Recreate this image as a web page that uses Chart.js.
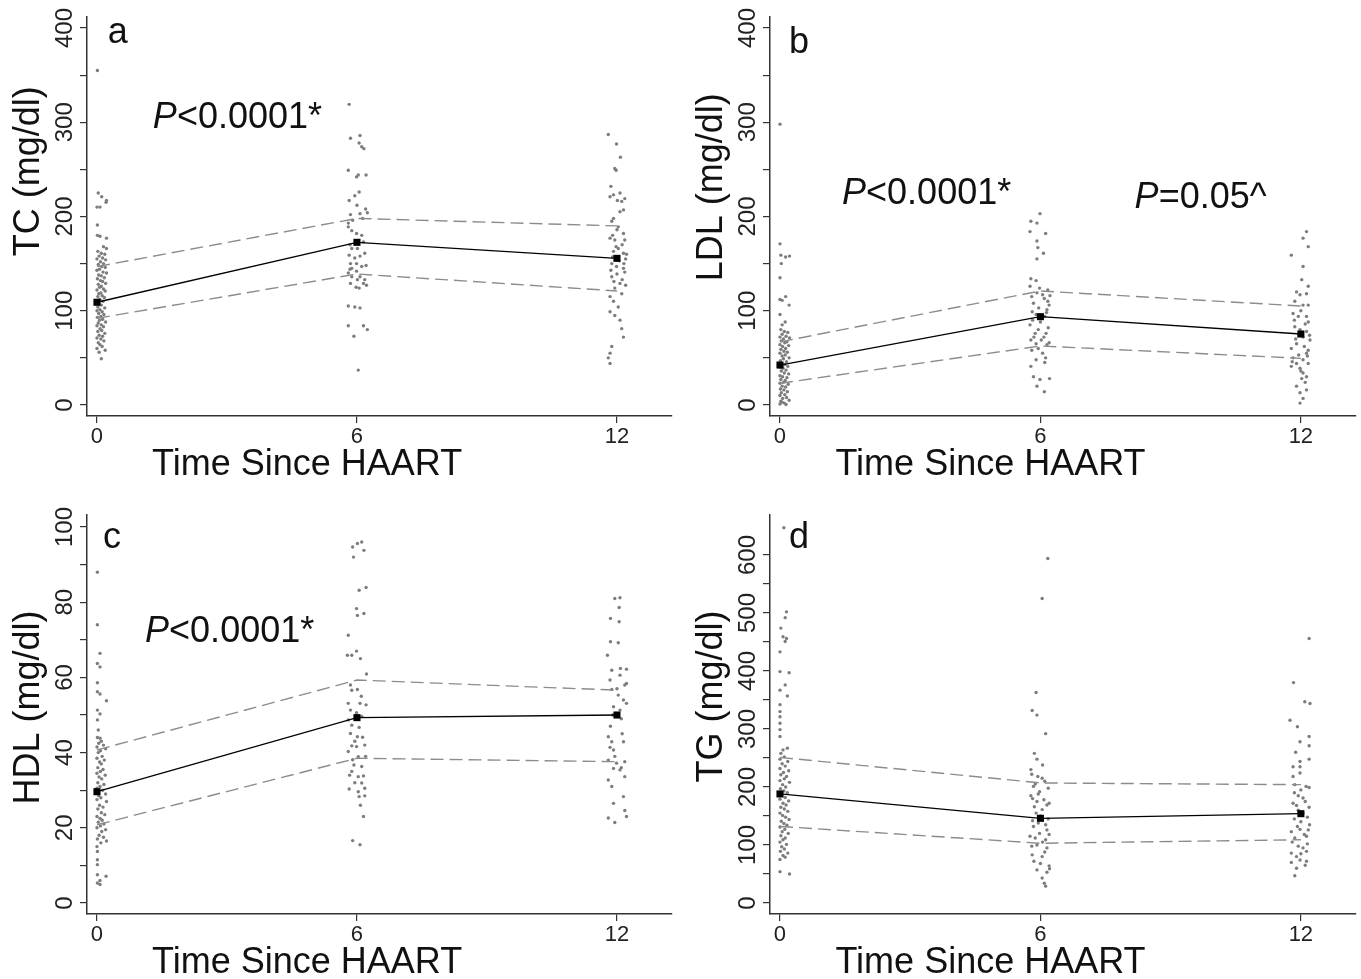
<!DOCTYPE html>
<html>
<head>
<meta charset="utf-8">
<script src="https://cdn.jsdelivr.net/npm/chart.js@4.4.0/dist/chart.umd.min.js"></script>
<style>
  body { margin: 0; background: #fff; }
  #wrap { position: relative; width: 1361px; height: 979px; background: #fff; }
  canvas { position: absolute; }
</style>
</head>
<body>
<div id="wrap">
  <canvas id="pa" width="680" height="490" style="left:0;top:0"></canvas>
  <canvas id="pb" width="681" height="490" style="left:680px;top:0"></canvas>
  <canvas id="pc" width="680" height="489" style="left:0;top:490px"></canvas>
  <canvas id="pd" width="681" height="489" style="left:680px;top:490px"></canvas>
</div>
<script>
// ---- data ----
const times = [0, 6, 12];
const xTicks = [0, 6, 12];
const mgTicks = [0, 50, 100, 150, 200, 250, 300, 350, 400];
const hdlTicks = [0, 10, 20, 30, 40, 50, 60, 70, 80, 90, 100];
const tgTicks = [0, 50, 100, 150, 200, 250, 300, 350, 400, 450, 500, 550, 600];

// means and 95% CI
const tcMean = [109, 172.6, 155.6];
const tcUpper = [146.8, 198, 190];
const tcLower = [92, 139, 121];
const ldlMean = [42.4, 93.7, 75.3];
const ldlUpper = [67, 121, 105];
const ldlLower = [23, 62.6, 49.5];
const hdlMean = [29.6, 49.3, 50];
const hdlUpper = [40.7, 59.3, 56.6];
const hdlLower = [20.8, 38.5, 37.6];
const tgMean = [188, 146, 154];
const tgUpper = [251, 207, 204];
const tgLower = [132, 103, 109];

// individual (jittered) observations [time, value]
const tc0 = [[0.01,355],[0.03,225],[0.11,221],[0.22,217],[0.0,210],[0.07,210],[0.21,215],[0.01,191],[0.01,180],[0.07,179],[0.22,177],[0.15,168],[0.22,166],
  [0.02,163],[0.1,161],[0.18,160],[0.05,158],[0.13,156],[0.0,155],[0.2,154],[0.08,152],[0.15,150],[0.03,149],[0.11,147],[0.19,146],[0.06,144],[0.0,143],[0.14,141],[0.22,140],[0.04,138],[0.1,137],[0.17,135],[0.01,134],[0.08,132],[0.13,131],[0.2,129],[0.03,128],[0.1,126],[0.06,125],[0.15,123],[0.0,122],[0.19,121],[0.09,119],[0.04,118],[0.12,116],[0.02,115],[0.17,114],[0.07,112],[0.0,111],[0.14,110],[0.05,107],[0.1,106],[0.02,104],[0.18,103],[0.07,101],[0.0,100],[0.12,99],[0.04,97],[0.16,96],[0.09,94],[0.01,93],[0.13,91],[0.06,90],[0.2,88],[0.03,87],[0.1,85],[0.0,84],[0.15,83],[0.07,81],[0.11,79],[0.02,78],[0.18,76],[0.05,74],[0.13,73],[0.0,71],[0.09,70],[0.16,68],[0.03,66],[0.07,64],[0.12,62],[0.0,60],[0.19,58],[0.05,56],[0.1,49]];
const tc6 = [[5.82,319],[5.85,283],[6.07,286],[6.05,278],[6.11,274],[6.16,272],[5.8,249],[6.03,244],[6.21,244],[5.99,242],[6.05,226],[5.95,222],[5.82,217],[6.24,204],[5.85,202],[5.9,196],[5.8,189],[6.07,203],[6.13,198],[5.99,182],[6.11,180],[5.88,166],[6.01,166],[6.18,161],[5.82,159],[5.85,150],[5.99,150],[6.21,148],[5.84,144],[5.88,136],[6.01,133],[6.15,129],[5.98,125],[6.22,127],[6.07,136],[5.8,140],[5.8,105],[5.95,104],[6.07,103],[5.8,84],[6.15,84],[6.24,80],[5.93,73],[6.03,37],
  [5.8,193],[5.88,185],[6.15,173],[5.84,170],[6.07,158],[5.95,156],[6.11,147],[5.88,145],[5.99,142],[6.18,133],[5.85,129],[6.05,124],[6.0,212],[6.2,208]];
const tc12 = [[11.8,287],[11.99,277],[12.08,263],[11.95,251],[11.98,249],[11.86,232],[11.84,221],[11.92,223],[12.07,225],[12.18,219],[12.11,216],[12.01,217],[12.15,207],[12.07,205],[11.92,198],[11.88,195],[12.03,189],[12.15,182],[11.84,177],[11.95,175],[12.18,175],[12.03,166],[12.15,161],[11.92,163],[12.22,160],[11.88,150],[11.99,147],[12.15,145],[12.18,141],[11.88,136],[12.07,129],[11.95,124],[12.11,118],[11.84,115],[11.92,110],[12.03,104],[11.84,99],[11.95,95],[12.07,90],[12.11,81],[12.15,72],[11.88,62],[11.84,55],[11.8,50],[11.84,44],
  [12.0,186],[11.9,180],[12.12,170],[11.98,168],[12.2,155],[11.9,157],[12.05,153],[12.16,150],[11.86,143],[12.0,139],[12.12,133],[11.93,131],[12.2,127]];

const ldl0 = [[0.0,298],[0.0,171],[0.02,159],[0.13,157],[0.22,158],[0.03,150],[0.0,135],[0.0,112],[0.13,115],[0.21,106],[0.05,111],[0.0,96],[0.12,88],[0.05,85],
  [0.02,80],[0.1,78],[0.18,77],[0.05,75],[0.14,73],[0.0,72],[0.22,71],[0.08,70],[0.03,68],[0.16,67],[0.11,66],[0.0,64],[0.2,63],[0.06,62],[0.13,60],[0.02,59],[0.09,57],[0.17,56],[0.0,55],[0.12,53],[0.05,52],[0.21,50],[0.08,49],[0.01,47],[0.15,46],[0.04,44],[0.11,43],[0.18,41],[0.0,40],[0.07,39],[0.14,37],[0.03,36],[0.1,34],[0.2,33],[0.0,31],[0.06,30],[0.16,29],[0.02,27],[0.12,26],[0.08,24],[0.0,23],[0.19,22],[0.05,20],[0.13,19],[0.01,17],[0.09,16],[0.17,14],[0.03,13],[0.11,11],[0.0,10],[0.15,8],[0.06,7],[0.21,5],[0.02,4],[0.1,2],[0.0,1],[0.14,0.5],[0.05,3]];
const ldl6 = [[5.99,203],[5.78,195],[5.92,193],[5.76,184],[6.12,182],[5.92,174],[5.94,167],[5.92,155],[6.07,161],[5.78,134],[5.9,132],[5.76,126],[5.98,124],[6.17,122],[5.92,119],[6.09,113],[6.17,110],[5.84,108],[5.96,103],[5.81,99],[6.15,101],[6.02,92],[5.76,85],[5.88,76],[6.13,76],[5.78,69],[6.02,69],[5.9,65],[6.15,64],[6.05,55],[6.12,50],[5.78,41],[5.84,30],[5.99,27],[6.21,28],[5.92,20],[6.09,14],
  [6.05,117],[5.8,115],[6.2,106],[5.9,96],[6.1,94],[5.82,90],[6.0,88],[6.18,82],[5.95,80],[5.85,72],[6.08,72],[6.2,66],[5.95,60],[5.8,58],[6.1,45],[5.9,48],[6.22,116],[6.14,98]];
const ldl12 = [[12.13,184],[12.05,177],[12.17,168],[11.78,159],[12.05,147],[12.02,133],[12.17,126],[11.9,120],[11.98,117],[12.13,118],[11.86,110],[12.05,106],[12.17,106],[11.82,97],[11.94,94],[12.13,94],[12.17,88],[11.86,83],[11.98,80],[12.13,78],[12.05,72],[12.21,69],[11.9,65],[11.78,60],[12.17,58],[12.13,55],[11.82,50],[12.05,48],[11.9,44],[12.17,44],[11.78,41],[11.98,39],[12.05,34],[12.13,30],[12.02,28],[11.9,20],[12.13,16],[11.98,13],[12.05,7],[11.98,2],
  [12.0,100],[11.85,90],[12.1,86],[11.95,75],[12.2,74],[11.88,70],[12.08,62],[11.95,53],[12.15,52],[11.8,46],[12.0,36],[12.1,24]];

const hdl0 = [[0.01,88],[0.01,74],[0.07,66.4],[0.01,63.7],[0.07,62.8],[0.01,58.6],[0.01,56.2],[0.07,55.6],[0.22,53.8],[0.01,51.3],[0.07,50.3],[0.01,48.7],[0.03,46],[0.01,44],[0.07,43.8],
  [0.1,43],[0.04,42.5],[0.15,42],[0.0,41.5],[0.2,41],[0.08,40.5],[0.03,40],[0.12,39],[0.0,38.5],[0.17,38],[0.06,37.5],[0.1,37],[0.02,36],[0.14,35.5],[0.08,35],[0.0,34.5],[0.19,34],[0.05,33.5],[0.11,33],[0.02,32],[0.16,31.5],[0.07,31],[0.0,30.5],[0.13,30],[0.2,29],[0.04,28.5],[0.09,28],[0.0,27.5],[0.22,27],[0.06,26],[0.14,25.5],[0.02,25],[0.1,24],[0.18,23.5],[0.0,23],[0.07,22.5],[0.12,22],[0.03,21.5],[0.16,21],[0.08,20.5],[0.0,20],[0.2,19.5],[0.11,19],[0.05,18],[0.15,17.5],[0.01,17],[0.22,16.5],[0.09,16],
  [0.0,15],[0.01,13.7],[0.01,11.5],[0.01,10.2],[0.01,7.5],[0.21,7.1],[0.07,6],[0.01,5.3],[0.07,4.9]];
const hdl6 = [[5.9,94.7],[6.01,95.6],[6.11,96],[6.16,93.8],[5.92,92],[6.05,83.2],[6.21,83.9],[5.99,78.3],[6.01,76.5],[6.16,77],[5.8,71.2],[5.78,65.9],[5.88,65.9],[5.99,67],[6.08,65],[6.22,60.9],[5.88,56.6],[6.01,56.8],[5.8,53.1],[6.07,53.1],[6.21,52.7],[5.85,51.3],[5.99,50.6],[6.11,49.6],[5.8,48.7],[5.88,47.3],[6.05,46.7],[5.85,45.1],[6.01,44.2],[6.13,44.1],[5.88,41.8],[5.99,41.6],[6.18,42],[5.8,40.3],[6.03,38.9],[5.9,38.1],[5.93,36.7],[6.11,36.3],[5.88,35],[6.03,33.6],[6.15,33.8],[5.95,32],[6.11,31.9],[5.82,30.3],[6.03,29.6],[6.18,30.5],[6.05,28.3],[6.18,28.5],[6.15,23],[5.9,16.6],[6.07,15.5],
  [5.85,58],[6.1,55],[5.95,43],[6.2,39],[5.83,34],[6.08,26]];
const hdl12 = [[11.95,81],[12.07,81.2],[12.05,78.6],[11.85,75.7],[12.05,74.8],[11.85,69.5],[12.03,69.2],[11.78,65.9],[11.88,61.9],[12.08,62.4],[12.22,62.2],[11.84,59.3],[12.07,60.6],[12.18,58],[11.88,56.8],[12.22,58.4],[12.03,55.3],[12.15,54],[11.92,52.2],[12.22,53.1],[12.07,51.3],[11.8,44.2],[11.88,42.9],[11.84,41.4],[12.15,42.9],[11.92,40.7],[11.8,38],[11.99,37.2],[12.18,37.6],[11.92,35.8],[12.07,35.4],[11.8,32.7],[12.18,33.6],[12.15,28.3],[11.92,26.5],[11.8,22.6],[11.95,21.4],[12.22,23],[12.18,24.6],
  [11.9,50],[12.1,49],[11.85,47],[12.0,57],[12.12,45],[11.95,39],[12.1,36],[11.88,31]];

const tg0 = [[0.09,647],[0.15,502],[0.12,492],[0.02,474],[0.07,459],[0.12,451],[0.15,456],[0.0,433],[0.0,399],[0.21,397],[0.12,376],[0.0,367],[0.17,357],[0.0,342],[0.0,330],[0.0,321],[0.0,310],[0.0,299],[0.0,287],[0.17,267],[0.07,264],[0.02,258],
  [0.1,252],[0.0,248],[0.18,244],[0.05,240],[0.12,236],[0.0,232],[0.2,228],[0.08,225],[0.02,221],[0.15,218],[0.1,214],[0.0,211],[0.22,208],[0.06,204],[0.13,200],[0.01,197],[0.09,193],[0.17,190],[0.04,186],[0.12,182],[0.0,179],[0.2,176],[0.07,172],[0.14,169],[0.02,165],[0.1,162],[0.18,158],[0.0,155],[0.06,151],[0.13,148],[0.21,144],[0.03,141],[0.09,137],[0.16,134],[0.0,131],[0.11,127],[0.05,123],[0.19,120],[0.02,116],[0.12,112],[0.07,109],[0.0,105],[0.15,101],[0.04,97],[0.1,93],[0.01,89],[0.18,86],[0.07,82],[0.12,79],[0.0,75],
  [0.0,54],[0.22,50]];
const tg6 = [[6.17,594],[6.04,525],[5.9,363],[5.81,332],[5.92,324],[6.12,292],[5.86,258],[5.92,248],[6.05,238],[5.78,230],[5.94,218],[6.04,215],[5.84,201],[5.98,192],[5.78,185],[5.92,175],[6.15,169],[5.86,166],[6.04,161],[5.84,132],[6.15,126],[5.98,120],[5.76,115],[6.12,109],[5.92,100],[6.15,95],[5.81,83],[6.04,80],[5.92,57],[6.21,59],[6.15,53],[6.04,43],[6.09,34],[6.12,29],
  [5.8,222],[6.1,210],[5.88,205],[6.18,198],[5.95,188],[5.82,180],[6.08,178],[6.2,172],[5.9,155],[6.0,150],[6.18,145],[5.82,142],[5.95,138],[6.12,135],[6.2,118],[5.88,112],[6.05,105],[5.8,98],[6.1,88],[5.85,72],[6.0,68],[6.2,64]];
const tg12 = [[12.19,456],[11.83,380],[12.09,347],[12.21,344],[11.75,315],[11.92,304],[11.98,278],[12.19,287],[11.88,260],[12.19,271],[11.98,244],[12.19,248],[11.82,235],[11.98,235],[11.82,218],[11.98,224],[11.86,204],[12.12,201],[12.19,199],[11.94,185],[12.05,181],[11.82,172],[12.19,165],[11.94,160],[12.05,155],[11.78,123],[11.98,127],[12.17,126],[12.13,115],[11.86,112],[11.94,98],[12.05,95],[11.78,86],[12.13,89],[11.9,80],[11.78,70],[11.98,74],[12.13,72],[11.9,60],[11.86,47],
  [12.0,195],[11.85,190],[12.1,175],[11.9,168],[12.15,148],[11.85,145],[12.0,140],[12.2,135],[11.92,132],[12.08,118],[11.8,105],[12.15,102],[12.0,85],[12.1,65]];

// ---- drawing ----
const font = "'Liberation Sans', Arial, Helvetica, sans-serif";

function pts(list) { return list.map(p => ({ x: p[0], y: p[1] })); }
function line(vals) { return vals.map((v, i) => ({ x: times[i], y: v })); }

// text annotations: panel letters, p-values, axis titles
const notes = {
  id: 'notes',
  afterDraw(chart, args, opts) {
    const ctx = chart.ctx, area = chart.chartArea;
    const sx = chart.scales.x, sy = chart.scales.y;
    (opts.items || []).forEach(it => {
      const px = it.x !== undefined ? sx.getPixelForValue(it.x) : area.left - it.left;
      const py = it.y !== undefined ? sy.getPixelForValue(it.y) : area.bottom + it.below;
      ctx.save();
      ctx.translate(px, py);
      if (it.rotate) ctx.rotate(-Math.PI / 2);
      ctx.fillStyle = '#111';
      ctx.textBaseline = 'alphabetic';
      ctx.textAlign = 'left';
      const parts = it.parts.map(p => ({ t: p[0], f: (p[1] ? 'italic ' : '') + it.size + 'px ' + font }));
      let total = 0;
      parts.forEach(p => { ctx.font = p.f; p.w = ctx.measureText(p.t).width; total += p.w; });
      let cx = it.center ? -total / 2 : 0;
      parts.forEach(p => { ctx.font = p.f; ctx.fillText(p.t, cx, 0); cx += p.w; });
      ctx.restore();
    });
  }
};

function makePanel(id, s) {
  const W = s.W, H = s.H, A = s.area;
  const axisStyle = {
    grid: { drawOnChartArea: false, drawTicks: true, tickLength: 7, color: '#333', lineWidth: 1.2 },
    border: { display: true, color: '#333', width: 1.5 }
  };
  new Chart(document.getElementById(id), {
    type: 'scatter',
    data: {
      datasets: [
        { data: line(s.mean), showLine: true, borderColor: '#000', borderWidth: 1.3,
          pointStyle: 'rect', pointRadius: 5, pointBackgroundColor: '#000', pointBorderWidth: 0, order: 1 },
        { data: line(s.upper), showLine: true, borderColor: '#8c8c8c', borderWidth: 1.4,
          borderDash: [13, 6], pointRadius: 0, order: 2 },
        { data: line(s.lower), showLine: true, borderColor: '#8c8c8c', borderWidth: 1.4,
          borderDash: [13, 6], pointRadius: 0, order: 2 },
        { data: pts(s.points[0]).concat(pts(s.points[1]), pts(s.points[2])), showLine: false,
          pointRadius: 1.7, pointBackgroundColor: '#7d7d7d', pointBorderWidth: 0, order: 3 }
      ]
    },
    options: {
      responsive: false,
      animation: false,
      devicePixelRatio: 1,
      events: [],
      layout: { padding: { left: 0, top: A.t, right: W - A.r, bottom: 0 } },
      plugins: { legend: { display: false }, tooltip: { enabled: false }, notes: { items: s.notes } },
      scales: {
        x: Object.assign({
          type: 'linear', position: 'bottom', min: -0.23, max: 13.27,
          afterBuildTicks: sc => { sc.ticks = xTicks.map(v => ({ value: v })); },
          afterFit: sc => { sc.height = H - A.b; },
          ticks: { font: { family: font, size: 22 }, color: '#222', padding: 1, autoSkip: false, maxRotation: 0 }
        }, axisStyle),
        y: Object.assign({
          type: 'linear', position: 'left', min: s.yMin, max: s.yMax,
          afterBuildTicks: sc => { sc.ticks = s.yTicks.map(v => ({ value: v })); },
          afterFit: sc => { sc.width = A.l; },
          ticks: { font: { family: font, size: 24 }, color: '#222', padding: -5, autoSkip: false,
            minRotation: 90, maxRotation: 90, crossAlign: 'center',
            callback: v => (v % s.every === 0 ? String(v) : '') }
        }, axisStyle)
      }
    },
    plugins: [notes]
  });
}

function titles(yName, yPos) {
  return [
    { parts: [['Time Since HAART']], x: 4.85, below: 59, size: 36, center: true },
    { parts: [[yName]], left: 48, y: yPos, size: 36, center: true, rotate: true }
  ];
}

makePanel('pa', {
  W: 680, H: 490, area: { l: 87, t: 17, r: 672, b: 416 },
  yMin: -11.7, yMax: 411.7, yTicks: mgTicks, every: 100,
  points: [tc0, tc6, tc12], mean: tcMean, upper: tcUpper, lower: tcLower,
  notes: titles('TC (mg/dl)', 248).concat([
    { parts: [['a']], x: 0.25, y: 384, size: 36 },
    { parts: [['P', true], ['<0.0001*']], x: 1.29, y: 294, size: 36 }
  ])
});

makePanel('pb', {
  W: 681, H: 490, area: { l: 90, t: 17, r: 676, b: 416 },
  yMin: -11.7, yMax: 411.7, yTicks: mgTicks, every: 100,
  points: [ldl0, ldl6, ldl12], mean: ldlMean, upper: ldlUpper, lower: ldlLower,
  notes: titles('LDL (mg/dl)', 231).concat([
    { parts: [['b']], x: 0.21, y: 374, size: 36 },
    { parts: [['P', true], ['<0.0001*']], x: 1.43, y: 213, size: 36 },
    { parts: [['P', true], ['=0.05^']], x: 8.17, y: 209, size: 36 }
  ])
});

makePanel('pc', {
  W: 680, H: 489, area: { l: 87, t: 25, r: 672, b: 424 },
  yMin: -2.93, yMax: 103.2, yTicks: hdlTicks, every: 20,
  points: [hdl0, hdl6, hdl12], mean: hdlMean, upper: hdlUpper, lower: hdlLower,
  notes: titles('HDL (mg/dl)', 52).concat([
    { parts: [['c']], x: 0.14, y: 94.4, size: 36 },
    { parts: [['P', true], ['<0.0001*']], x: 1.11, y: 69.4, size: 36 }
  ])
});

makePanel('pd', {
  W: 681, H: 489, area: { l: 90, t: 25, r: 676, b: 424 },
  yMin: -19, yMax: 669, yTicks: tgTicks, every: 100,
  points: [tg0, tg6, tg12], mean: tgMean, upper: tgUpper, lower: tgLower,
  notes: titles('TG (mg/dl)', 356).concat([
    { parts: [['d']], x: 0.21, y: 612, size: 36 }
  ])
});
</script>
</body>
</html>
